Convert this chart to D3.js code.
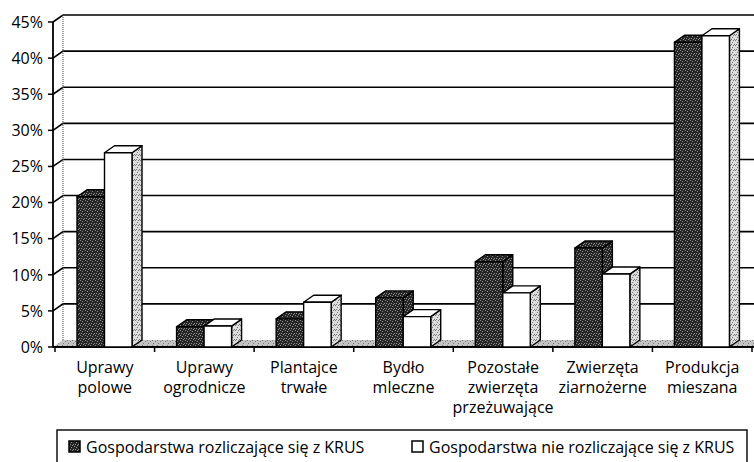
<!DOCTYPE html>
<html>
<head>
<meta charset="utf-8">
<script src="https://cdn.jsdelivr.net/npm/d3@7"></script>
<style>
  body { margin: 0; background: #fff; }
  text { font-family: "Open Sans", "Noto Sans", sans-serif; fill: #000; }
</style>
</head>
<body>
<div id="chart"></div>
<script>
var categories = [
    ["Uprawy", "polowe"],
    ["Uprawy", "ogrodnicze"],
    ["Plantajce", "trwałe"],
    ["Bydło", "mleczne"],
    ["Pozostałe", "zwierzęta", "przeżuwające"],
    ["Zwierzęta", "ziarnożerne"],
    ["Produkcja", "mieszana"]
];
var seriesNames = ["Gospodarstwa rozliczające się z KRUS", "Gospodarstwa nie rozliczające się z KRUS"];
var krus = [20.8, 2.8, 3.9, 6.8, 11.8, 13.7, 42.2];
var nonKrus = [26.9, 2.9, 6.2, 4.2, 7.5, 10.1, 43.1];
var yTicks = [0, 5, 10, 15, 20, 25, 30, 35, 40, 45];

var width = 754, height = 462;
var dx = 10, dy = -7; // depth of the 3d box

var svg = d3.select("#chart").append("svg")
    .attr("width", width)
    .attr("height", height);

var defs = svg.append("defs");

// speckled textures like the printed chart
function texture(id, base, dot, dots) {
    var p = defs.append("pattern")
        .attr("id", id)
        .attr("width", 5).attr("height", 5)
        .attr("patternUnits", "userSpaceOnUse");
    p.append("rect").attr("width", 5).attr("height", 5).attr("fill", base);
    dots.forEach(function (d) {
        p.append("rect").attr("x", d[0]).attr("y", d[1]).attr("width", 1).attr("height", 1).attr("fill", dot);
    });
}
texture("darkTex", "#262626", "#8a8a8a", [[0, 0], [2, 1], [4, 3], [1, 3], [3, 4]]);
texture("sideTex", "#dcdcdc", "#7a7a7a", [[0, 0], [2, 2], [4, 4], [3, 0], [1, 4]]);
texture("floorTex", "#c4c4c4", "#777", [[0, 1], [3, 3], [2, 0]]);

var y = d3.scaleLinear().domain([0, 45]).range([347, 22]);

var x = d3.scaleBand()
    .domain(d3.range(categories.length))
    .range([55, 752]);

var xs = d3.scaleBand()
    .domain([0, 1])
    .range([22, 77]);

var axisX = 53, backX = axisX + dx, rightX = width;

// gridlines: slant on side wall + horizontal on back wall
var grid = svg.append("g").attr("class", "grid");
grid.selectAll("path")
    .data(yTicks.filter(function (d) { return d > 0; }))
    .enter().append("path")
    .attr("d", function (d) {
        var yy = y(d);
        return "M" + axisX + "," + yy + "L" + backX + "," + (yy + dy) + "L" + rightX + "," + (yy + dy);
    })
    .attr("fill", "none")
    .attr("stroke", "#000")
    .attr("stroke-width", 1.6);

// back wall left edge
svg.append("line")
    .attr("x1", backX).attr("x2", backX)
    .attr("y1", y(45) + dy).attr("y2", y(0) + dy)
    .attr("stroke", "#444")
    .attr("stroke-width", 1)
    .attr("stroke-dasharray", "1,1");

// floor
svg.append("path")
    .attr("d", "M" + axisX + "," + y(0) + "L" + backX + "," + (y(0) + dy) + "L" + rightX + "," + (y(0) + dy) + "L" + rightX + "," + y(0) + "Z")
    .attr("fill", "url(#floorTex)")
    .attr("stroke", "none");

// axes
svg.append("line")
    .attr("x1", axisX).attr("x2", axisX)
    .attr("y1", y(45)).attr("y2", y(0))
    .attr("stroke", "#000").attr("stroke-width", 1.8);

var yAxis = svg.append("g").attr("class", "y-axis");
yAxis.selectAll("line")
    .data(yTicks)
    .enter().append("line")
    .attr("x1", axisX - 5).attr("x2", axisX)
    .attr("y1", function (d) { return y(d); })
    .attr("y2", function (d) { return y(d); })
    .attr("stroke", "#000").attr("stroke-width", 1.5);
yAxis.selectAll("text")
    .data(yTicks)
    .enter().append("text")
    .attr("x", 43)
    .attr("y", function (d) { return y(d); })
    .attr("dy", "0.36em")
    .attr("text-anchor", "end")
    .attr("font-size", 16)
    .text(function (d) { return d + "%"; });

svg.append("line")
    .attr("x1", axisX).attr("x2", rightX)
    .attr("y1", y(0)).attr("y2", y(0))
    .attr("stroke", "#000").attr("stroke-width", 1.8);

svg.append("g").selectAll("line")
    .data(d3.range(categories.length + 1))
    .enter().append("line")
    .attr("x1", function (d) { return d < categories.length ? x(d) : x.range()[1]; })
    .attr("x2", function (d) { return d < categories.length ? x(d) : x.range()[1]; })
    .attr("y1", y(0)).attr("y2", y(0) + 5)
    .attr("stroke", "#000").attr("stroke-width", 1.5);

// bars
var bars = [];
categories.forEach(function (c, i) {
    bars.push({ cat: i, s: 0, value: krus[i] });
    bars.push({ cat: i, s: 1, value: nonKrus[i] });
});

var barG = svg.append("g").attr("class", "bars")
    .selectAll("g")
    .data(bars)
    .enter().append("g")
    .attr("stroke", "#000")
    .attr("stroke-width", 1.4)
    .attr("stroke-linejoin", "round");

function x0(d) { return x(d.cat) + xs(d.s); }
function x1(d) { return x(d.cat) + xs(d.s) + xs.bandwidth(); }

barG.append("path") // side
    .attr("d", function (d) {
        var a = x1(d), t = y(d.value), b = y(0);
        return "M" + a + "," + t + "L" + (a + dx) + "," + (t + dy) + "L" + (a + dx) + "," + (b + dy) + "L" + a + "," + b + "Z";
    })
    .attr("fill", function (d) { return d.s === 0 ? "url(#darkTex)" : "url(#sideTex)"; });

barG.append("path") // top
    .attr("d", function (d) {
        var a = x0(d), e = x1(d), t = y(d.value);
        return "M" + a + "," + t + "L" + (a + dx) + "," + (t + dy) + "L" + (e + dx) + "," + (t + dy) + "L" + e + "," + t + "Z";
    })
    .attr("fill", function (d) { return d.s === 0 ? "url(#darkTex)" : "#fff"; });

barG.append("rect") // front
    .attr("x", x0)
    .attr("y", function (d) { return y(d.value); })
    .attr("width", xs.bandwidth())
    .attr("height", function (d) { return y(0) - y(d.value); })
    .attr("fill", function (d) { return d.s === 0 ? "url(#darkTex)" : "#fff"; });

// category labels
var labels = svg.append("g").selectAll("text")
    .data(categories)
    .enter().append("text")
    .attr("text-anchor", "middle")
    .attr("font-size", 16)
    .attr("x", function (d, i) { return x(i) + x.bandwidth() / 2; });

labels.selectAll("tspan")
    .data(function (d) { return d; })
    .enter().append("tspan")
    .attr("x", function () { return d3.select(this.parentNode).attr("x"); })
    .attr("y", function (d, j) { return 373 + j * 20; })
    .text(function (d) { return d; });

// legend
var legend = svg.append("g").attr("class", "legend");
legend.append("rect")
    .attr("x", 57).attr("y", 430)
    .attr("width", 690).attr("height", 45)
    .attr("fill", "#fff")
    .attr("stroke", "#000").attr("stroke-width", 1.4);

var legendX = [69, 412];
var item = legend.selectAll("g")
    .data(seriesNames)
    .enter().append("g")
    .attr("transform", function (d, i) { return "translate(" + legendX[i] + ",441)"; });

item.append("rect")
    .attr("width", 11).attr("height", 11)
    .attr("fill", function (d, i) { return i === 0 ? "url(#darkTex)" : "#fff"; })
    .attr("stroke", "#000")
    .attr("stroke-width", 1.5);

item.append("text")
    .attr("x", 17)
    .attr("y", 6)
    .attr("dy", "0.36em")
    .attr("font-size", 16)
    .text(function (d) { return d; });
</script>
</body>
</html>
